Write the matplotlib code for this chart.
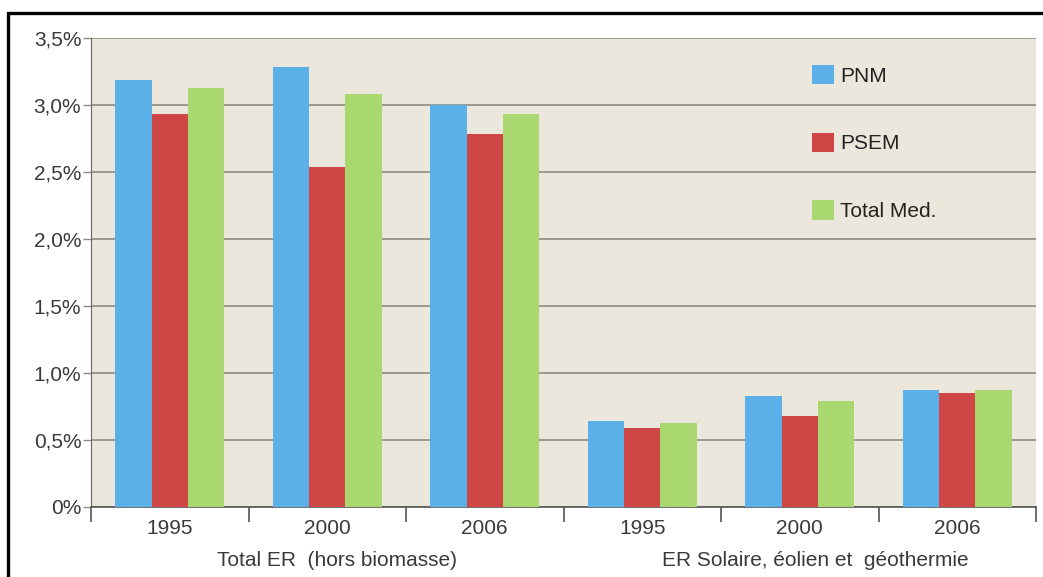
import numpy as np
import matplotlib
matplotlib.use("Agg")
import matplotlib.pyplot as plt
from matplotlib.patches import Rectangle

plt.rcParams["font.family"] = ["Liberation Sans", "DejaVu Sans"]

# ------------------------------
#   Data
# ------------------------------
years = ["1995", "2000", "2006", "1995", "2000", "2006"]
groups = ["Total ER  (hors biomasse)", "ER Solaire, éolien et  géothermie"]
series = ["PNM", "PSEM", "Total Med."]

pnm = [3.19, 3.28, 3.00, 0.64, 0.83, 0.87]
psem = [2.93, 2.54, 2.78, 0.59, 0.68, 0.85]
total_med = [3.13, 3.08, 2.93, 0.63, 0.79, 0.87]

yticks = [0, 0.5, 1.0, 1.5, 2.0, 2.5, 3.0, 3.5]
ytick_labels = ["0%", "0,5%", "1,0%", "1,5%", "2,0%", "2,5%", "3,0%", "3,5%"]

colors = ["#5cb0e8", "#cf4646", "#a9d870"]
text_col = "#3a3a3a"
grid_col = "#8c8a82"
fs = 15

# ------------------------------
#   Figure
# ------------------------------
W, H = 1043, 577
fig = plt.figure(figsize=(W / 100, H / 100), dpi=100)
fig.patch.set_facecolor("white")

left, right, top, bottom = 91, 1036, 38, 507
ax = fig.add_axes([left / W, 1 - bottom / H, (right - left) / W, (bottom - top) / H])
ax.set_facecolor("#ece7dc")

x = np.arange(len(years))
bw = 0.23
for i, (vals, name) in enumerate(zip([pnm, psem, total_med], series)):
    ax.bar(x + (i - 1) * bw, vals, width=bw, color=colors[i], label=name, zorder=3)

ax.set_xlim(-0.5, len(years) - 0.5)
ax.set_ylim(0, 3.5)

# gridlines
ax.set_yticks(yticks)
ax.set_yticklabels(ytick_labels, fontsize=fs, color=text_col)
ax.yaxis.grid(True, color=grid_col, linewidth=1.2, zorder=1)
ax.set_axisbelow(True)
ax.tick_params(axis="y", length=6, width=1, color=grid_col, pad=1)

# x ticks: marks between groups, labels at centres
ax.set_xticks(np.arange(-0.5, len(years)), minor=False)
ax.set_xticklabels([""] * (len(years) + 1))
ax.tick_params(axis="x", which="major", length=11, width=1.2, color="#555555")
ax.set_xticks(x, minor=True)
ax.set_xticklabels(years, minor=True, fontsize=fs, color=text_col)
ax.tick_params(axis="x", which="minor", length=0, pad=9)

for s in ["top", "right"]:
    ax.spines[s].set_visible(False)
ax.spines["left"].set_color("#666666")
ax.spines["bottom"].set_color("#555555")
ax.spines["bottom"].set_linewidth(1.2)

# group labels
ax.text(1.06, -0.4, groups[0], ha="center", va="center", fontsize=fs, color=text_col)
ax.text(4.1, -0.4, groups[1], ha="center", va="center", fontsize=fs, color=text_col)

# legend
ax.legend(loc="center left", bbox_to_anchor=(0.763, 0.776), frameon=False,
          fontsize=fs, handlelength=1.05, handleheight=1.05, handletextpad=0.3,
          labelspacing=2.25, borderpad=0, borderaxespad=0, labelcolor="#222222")

# outer black frame
fig.add_artist(Rectangle((8 / W, -0.1), 1.2, 1.1 - 13 / H,
                         transform=fig.transFigure, fill=False,
                         edgecolor="black", linewidth=2.4, clip_on=False))

fig.savefig("out.png", dpi=100, facecolor="white")
